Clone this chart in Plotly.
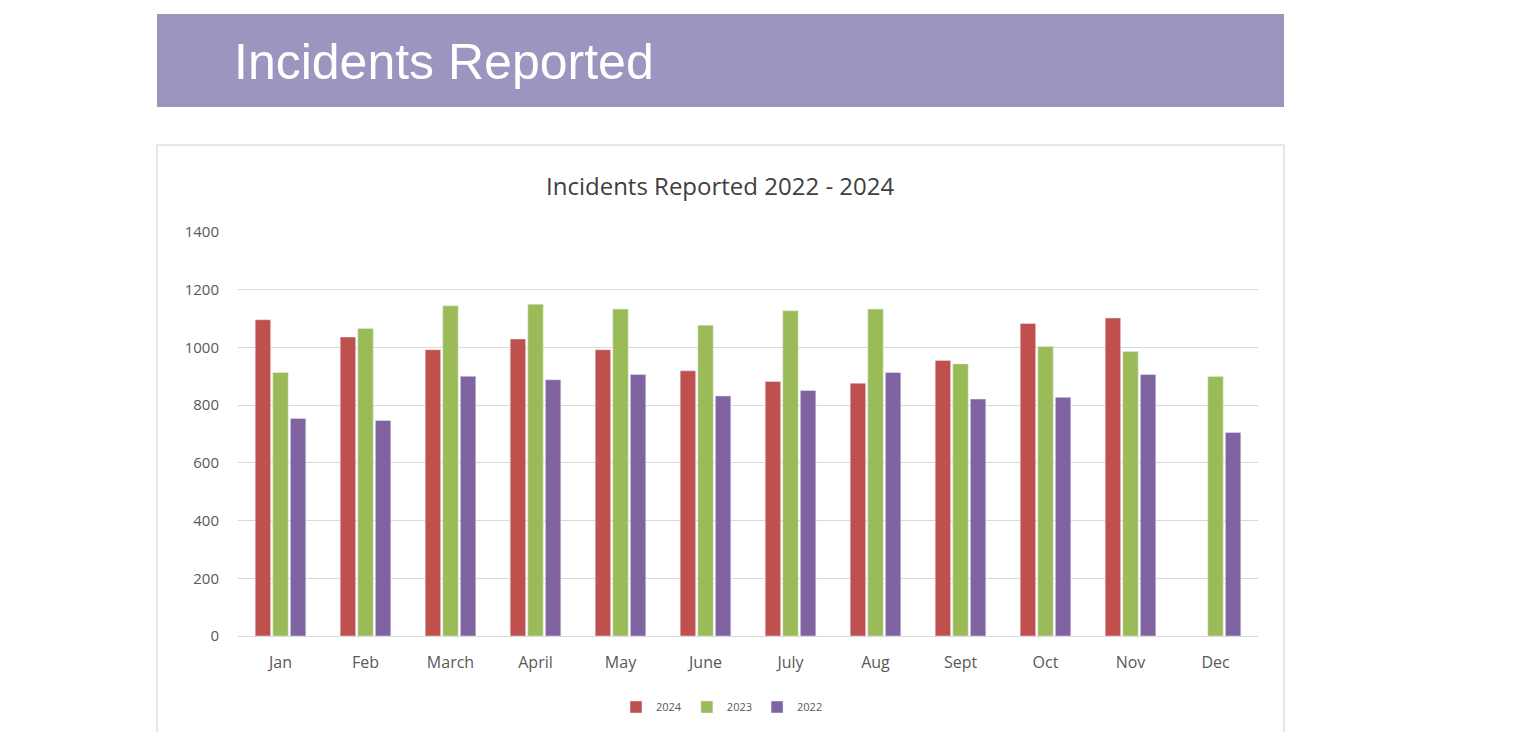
import plotly.graph_objects as go

W, H = 1515, 740
OFF = 8  # default page body margin
FW, FH = W - 2 * OFF, H - 2 * OFF

months = ["Jan", "Feb", "March", "April", "May", "June", "July", "Aug", "Sept", "Oct", "Nov", "Dec"]
y2024 = [1096, 1036, 992, 1029, 992, 919, 882, 876, 955, 1083, 1102, None]
y2023 = [913, 1066, 1144, 1150, 1133, 1077, 1127, 1133, 943, 1003, 986, 899]
y2022 = [754, 747, 900, 888, 906, 832, 851, 913, 821, 827, 906, 705]

series = [("2024", y2024, "#c0504d"), ("2023", y2023, "#9bbb59"), ("2022", y2022, "#8064a2")]


def fx(x):
    return (x - OFF) / FW


def fy(y):
    return 1 - (y - OFF) / FH


fig = go.Figure()
for name, vals, col in series:
    fig.add_trace(go.Bar(x=months, y=vals, name=name, marker=dict(color=col)))


def box(x0, y0, x1, y1):
    return dict(x0=fx(x0), x1=fx(x1), y0=fy(y0), y1=fy(y1))


fig.add_shape(type="rect", xref="paper", yref="paper", line_width=0,
              fillcolor="#9d94bf", layer="below", **box(157, 14, 1284, 107))
fig.add_shape(type="rect", xref="paper", yref="paper",
              line=dict(color="#d0d0d0", width=1), fillcolor="white",
              layer="below", **box(157, 145, 1284, 737))

fig.add_annotation(text="Incidents Reported", xref="paper", yref="paper",
                   x=fx(232), y=fy(62), xanchor="left", yanchor="middle",
                   showarrow=False, font=dict(family="Liberation Sans", size=50, color="white"))
fig.add_annotation(text="Incidents Reported 2022 - 2024", xref="paper", yref="paper",
                   x=fx(720), y=fy(185), xanchor="center", yanchor="middle",
                   showarrow=False, font=dict(family="Open Sans", size=24, color="#404040"))

fig.update_layout(
    width=FW, height=FH,
    margin=dict(l=0, r=0, t=0, b=0),
    paper_bgcolor="white", plot_bgcolor="rgba(0,0,0,0)",
    barmode="group", bargap=0.38, bargroupgap=0.12,
    font=dict(family="Open Sans", color="#595959"),
    xaxis=dict(domain=[fx(238), fx(1258)], showline=True, linecolor="#d9d9d9",
               tickfont=dict(size=16), ticks="", automargin=False,
               ticklabelstandoff=12),
    yaxis=dict(domain=[fy(636), fy(232)], range=[0, 1400], dtick=200,
               gridcolor="#d9d9d9", zeroline=False, tickfont=dict(size=15),
               ticklabelstandoff=18, automargin=False),
    legend=dict(orientation="h", x=fx(722), xanchor="center", y=fy(707),
                yanchor="middle", font=dict(size=11), bgcolor="rgba(0,0,0,0)",
                itemwidth=30),
    showlegend=True,
)

fig.write_html("out.html")
